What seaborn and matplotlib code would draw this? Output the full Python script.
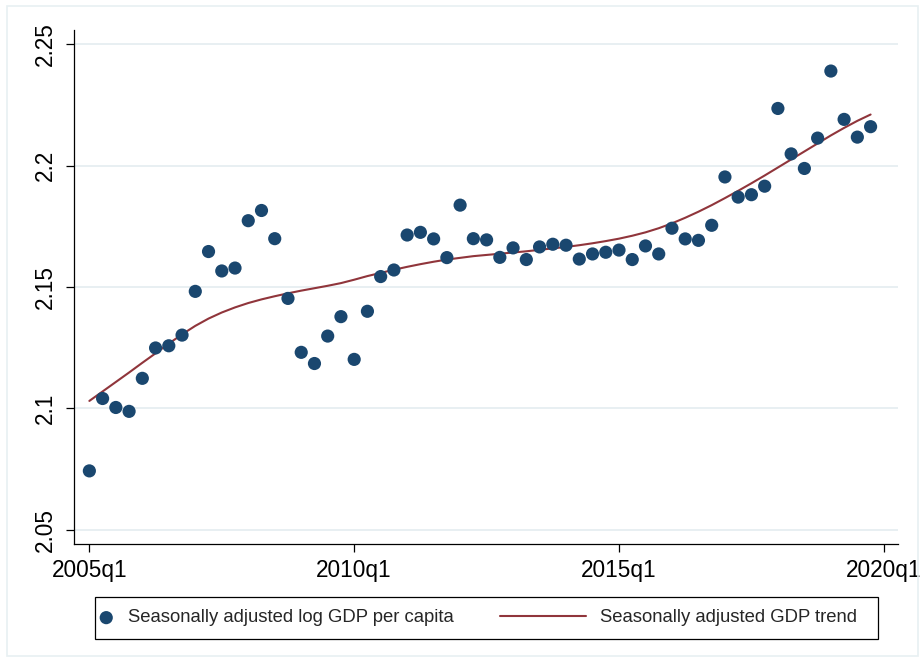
import numpy as np
import pandas as pd
import matplotlib
matplotlib.use("Agg")
import matplotlib.pyplot as plt
from matplotlib.patches import Rectangle
import seaborn as sns

# quarters since 1960q1 (Stata %tq), 2005q1 .. 2019q4
quarters = list(range(180, 240))
gdp_sa = [2.0743, 2.1041, 2.1004, 2.0988, 2.1124, 2.1249, 2.1258, 2.1302, 2.1482, 2.1646,
          2.1566, 2.1578, 2.1773, 2.1815, 2.1699, 2.1453, 2.1231, 2.1185, 2.1298, 2.1378,
          2.1202, 2.1400, 2.1543, 2.1570, 2.1714, 2.1725, 2.1698, 2.1621, 2.1837, 2.1699,
          2.1694, 2.1622, 2.1661, 2.1613, 2.1665, 2.1676, 2.1672, 2.1615, 2.1636, 2.1643,
          2.1652, 2.1613, 2.1669, 2.1636, 2.1742, 2.1698, 2.1692, 2.1754, 2.1953, 2.1870,
          2.1880, 2.1915, 2.2235, 2.2048, 2.1988, 2.2113, 2.2389, 2.2190, 2.2117, 2.2160]
gdp_trend = [2.1031, 2.1070, 2.1109, 2.1148, 2.1188, 2.1227, 2.1267, 2.1305, 2.1340, 2.1370,
             2.1395, 2.1416, 2.1434, 2.1449, 2.1462, 2.1474, 2.1485, 2.1495, 2.1505, 2.1516,
             2.1530, 2.1545, 2.1558, 2.1571, 2.1583, 2.1594, 2.1604, 2.1613, 2.1620, 2.1627,
             2.1632, 2.1637, 2.1642, 2.1647, 2.1653, 2.1659, 2.1665, 2.1672, 2.1680, 2.1689,
             2.1699, 2.1711, 2.1725, 2.1742, 2.1762, 2.1785, 2.1810, 2.1837, 2.1866, 2.1896,
             2.1927, 2.1959, 2.1992, 2.2025, 2.2058, 2.2091, 2.2124, 2.2155, 2.2184, 2.2210]

x_ticks = [180, 200, 220, 240]
x_labels = ["2005q1", "2010q1", "2015q1", "2020q1"]
y_ticks = [2.05, 2.1, 2.15, 2.2, 2.25]
y_labels = ["2.05", "2.1", "2.15", "2.2", "2.25"]

df = pd.DataFrame({"q": quarters, "gdp": gdp_sa, "trend": gdp_trend})

sns.set_style("white")
plt.rcParams["font.family"] = ["Liberation Sans", "DejaVu Sans"]

W, H = 922, 663
fig = plt.figure(figsize=(W / 100, H / 100), dpi=100)
ax = fig.add_axes([74 / W, 1 - 544 / H, (898 - 74) / W, (544 - 30) / H])

navy = "#1a476f"
maroon = "#90353b"

sns.scatterplot(data=df, x="q", y="gdp", ax=ax, color=navy, s=90, edgecolor="none",
                label="Seasonally adjusted log GDP per capita", zorder=3)
sns.lineplot(data=df, x="q", y="trend", ax=ax, color=maroon, lw=1.5,
             label="Seasonally adjusted GDP trend", zorder=2)

ax.set_xlim(178.84, 241.07)
ax.set_ylim(2.0442, 2.2558)
ax.set_xticks(x_ticks)
ax.set_xticklabels(x_labels)
ax.set_yticks(y_ticks)
ax.set_yticklabels(y_labels, rotation=90, va="center")
ax.set_xlabel("")
ax.set_ylabel("")

for yv in y_ticks:
    ax.axhline(yv, color="#e6eef1", lw=1.3, zorder=0)

for side in ["top", "right"]:
    ax.spines[side].set_visible(False)
for side in ["left", "bottom"]:
    ax.spines[side].set_color("black")
    ax.spines[side].set_linewidth(0.9)

ax.tick_params(axis="both", which="major", direction="out", length=6, width=0.9,
               color="black", labelsize=16.3, labelcolor="black")
ax.tick_params(axis="y", pad=6)
ax.tick_params(axis="x", pad=5)
ax.tick_params(left=True, bottom=True)

# legend: two entries placed separately inside one drawn box
ax.get_legend().remove()
handles, labels = ax.get_legend_handles_labels()
ymid = 1 - 618 / H
leg1 = fig.legend([handles[0]], [labels[0]], loc="center left",
                  bbox_to_anchor=(97 / W, ymid), fontsize=13.3, frameon=False,
                  handlelength=1.0, handletextpad=0.7, borderpad=0, borderaxespad=0)
leg2 = fig.legend([handles[1]], [labels[1]], loc="center left",
                  bbox_to_anchor=(500 / W, ymid), fontsize=13.3, frameon=False,
                  handlelength=4.65, handletextpad=0.75, borderpad=0, borderaxespad=0)

fig.patches.append(Rectangle((95 / W, 1 - 639 / H), (878 - 95) / W, (639 - 597) / H,
                             transform=fig.transFigure, fill=False,
                             edgecolor="black", lw=0.9))
fig.patches.append(Rectangle((7 / W, 1 - 656 / H), (918 - 7) / W, (656 - 6) / H,
                             transform=fig.transFigure, fill=False,
                             edgecolor="#e8f0f2", lw=1.2))

fig.savefig("out.png", dpi=100, facecolor="white")
